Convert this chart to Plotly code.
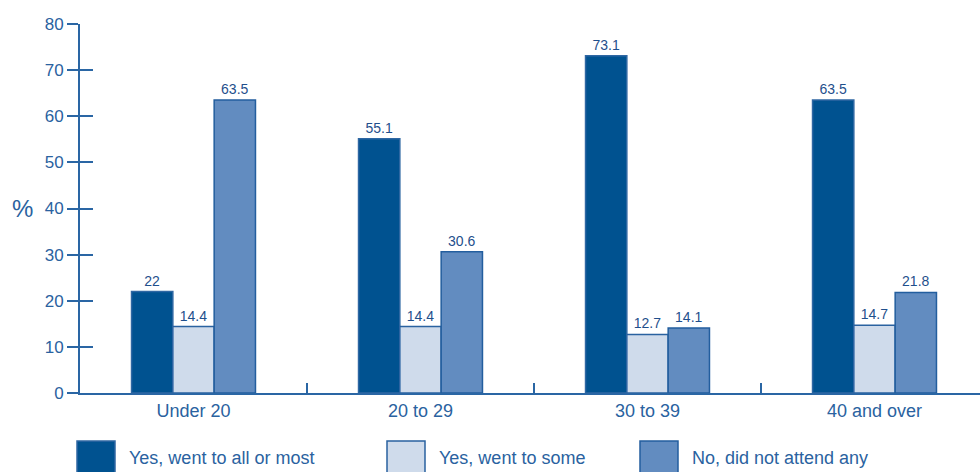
import plotly.graph_objects as go

# Age groups and attendance responses (%)
categories = ["Under 20", "20 to 29", "30 to 39", "40 and over"]
series_names = ["Yes, went to all or most", "Yes, went to some", "No, did not attend any"]
all_or_most = [22, 55.1, 73.1, 63.5]
some = [14.4, 14.4, 12.7, 14.7]
none_attended = [63.5, 30.6, 14.1, 21.8]
y_ticks = [0, 10, 20, 30, 40, 50, 60, 70, 80]

series_values = [all_or_most, some, none_attended]
fills = ["#005290", "#cfdbeb", "#628cc0"]
edges = ["#2f67a3", "#2a62a0", "#235e9e"]

W, H = 980, 472
M_L, M_R, M_T, M_B = 80, 0, 24, 79
FONT = "Liberation Sans, Arial, sans-serif"
AXIS_COL = "#2a66a4"
TEXT_COL = "#2a62a0"

fig = go.Figure()
for name, vals, fc, ec in zip(series_names, series_values, fills, edges):
    fig.add_trace(go.Bar(
        x=categories, y=vals, name=name,
        marker=dict(color=fc, line=dict(color=ec, width=1.5)),
        text=[f"{v:g}" for v in vals], textposition="outside",
        textfont=dict(family=FONT, size=14, color="#1f4f8c"),
        cliponaxis=False, showlegend=False,
    ))

# Visible range leaves the last category partly past the right edge
span = (W - M_L - M_R) / 227.0
fig.update_layout(
    width=W, height=H,
    margin=dict(l=M_L, r=M_R, t=M_T, b=M_B),
    paper_bgcolor="white", plot_bgcolor="white",
    barmode="group", bargap=0.454, bargroupgap=0,
    font=dict(family=FONT, color=TEXT_COL),
    xaxis=dict(
        type="category", range=[-0.5, -0.5 + span],
        showline=True, linecolor=AXIS_COL, linewidth=2,
        ticks="inside", tickson="boundaries", ticklen=10, tickwidth=2, tickcolor=AXIS_COL,
        tickfont=dict(size=18, color=TEXT_COL), showgrid=False, zeroline=False,
    ),
    yaxis=dict(
        range=[0, 80], tickvals=y_ticks, showline=True, linecolor=AXIS_COL, linewidth=2,
        ticks="outside", ticklen=11, tickwidth=2, tickcolor=AXIS_COL,
        tickfont=dict(size=17, color=TEXT_COL), showgrid=False, zeroline=False,
        ticklabelstandoff=0,
    ),
    yaxis2=dict(
        range=[0, 80], tickvals=y_ticks, overlaying="y", side="left",
        ticks="inside", ticklen=13, tickwidth=2, tickcolor=AXIS_COL,
        showticklabels=False, showgrid=False, zeroline=False, showline=False,
    ),
)
# invisible trace to anchor the inner tick marks
fig.add_trace(go.Scatter(x=[categories[0]], y=[0], yaxis="y2", mode="markers",
                         marker=dict(opacity=0), showlegend=False, hoverinfo="skip"))

plot_w = W - M_L - M_R
plot_h = H - M_T - M_B


def px_x(px):
    return (px - M_L) / plot_w


def px_y(py):
    return (H - M_B - py) / plot_h


fig.add_annotation(text="%", xref="paper", yref="paper",
                   x=px_x(22), y=px_y(208), xanchor="center", yanchor="middle",
                   showarrow=False, font=dict(size=24, color=TEXT_COL))

# Legend drawn below the axis
legend_x = [77, 387, 640]
for name, fc, ec, lx in zip(series_names, fills, edges, legend_x):
    fig.add_shape(type="rect", xref="paper", yref="paper",
                  x0=px_x(lx), x1=px_x(lx + 38), y0=px_y(482), y1=px_y(441),
                  fillcolor=fc, line=dict(color=ec, width=1.5))
    fig.add_annotation(text=name, xref="paper", yref="paper",
                       x=px_x(lx + 50), y=px_y(458), xanchor="left", yanchor="middle",
                       showarrow=False, font=dict(size=18, color=TEXT_COL))

fig.write_html("out.html")
